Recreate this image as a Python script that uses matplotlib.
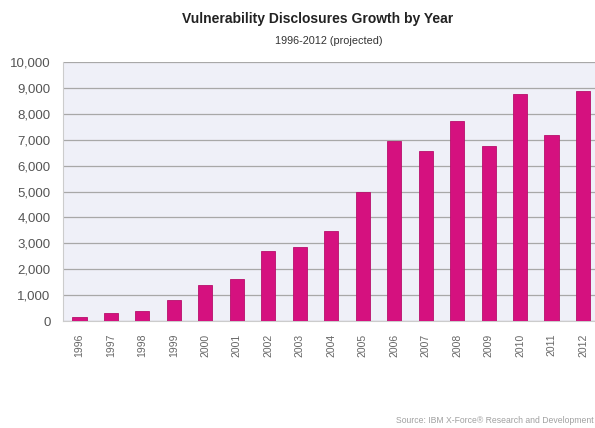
import matplotlib
matplotlib.use("Agg")
from matplotlib import pyplot as plt
import numpy as np

years = ['1996', '1997', '1998', '1999', '2000', '2001', '2002', '2003', '2004',
         '2005', '2006', '2007', '2008', '2009', '2010', '2011', '2012']
disclosures = [150, 300, 375, 820, 1400, 1610, 2715, 2845, 3470,
               4980, 6950, 6560, 7720, 6760, 8750, 7190, 8890]
y_ticks = [0, 1000, 2000, 3000, 4000, 5000, 6000, 7000, 8000, 9000, 10000]

plt.rcParams['font.family'] = ['Liberation Sans', 'DejaVu Sans']

fig = plt.figure(figsize=(5.95, 4.28), dpi=100)
ax = fig.add_axes([0.106, 0.25, 0.894, 0.605])

x = np.arange(len(years))
ax.set_facecolor('#eff0f8')
ax.bar(x, disclosures, width=0.45, color='#d5117f', edgecolor='#b80f6c', linewidth=0.6, zorder=3)

ax.set_ylim(0, 10000)
ax.set_xlim(-0.52, len(years) - 0.62)
ax.set_yticks(y_ticks)
ax.set_yticklabels(['{:,}'.format(v) for v in y_ticks], fontsize=9.5, color='#555555')
ax.set_xticks(x)
ax.set_xticklabels(years, rotation=90, fontsize=7.5, color='#666666')
ax.yaxis.grid(True, color='#a8a8a8', linewidth=0.9, zorder=1)
ax.tick_params(axis='both', length=0, pad=9)
ax.tick_params(axis='x', pad=9)

for side in ['top', 'right']:
    ax.spines[side].set_visible(False)
ax.spines['left'].set_color('#cccccc')
ax.spines['bottom'].set_color('#cccccc')

fig.text(0.533, 0.955, 'Vulnerability Disclosures Growth by Year', ha='center', va='center',
         fontsize=10, fontweight='bold', color='#222222')
fig.text(0.552, 0.905, '1996-2012 (projected)', ha='center', va='center', fontsize=7.8, color='#333333')
fig.text(0.998, 0.018, 'Source: IBM X-Force\u00ae Research and Development', ha='right', va='center',
         fontsize=6.2, color='#a0a0a0')

fig.savefig('out.png', dpi=100)
